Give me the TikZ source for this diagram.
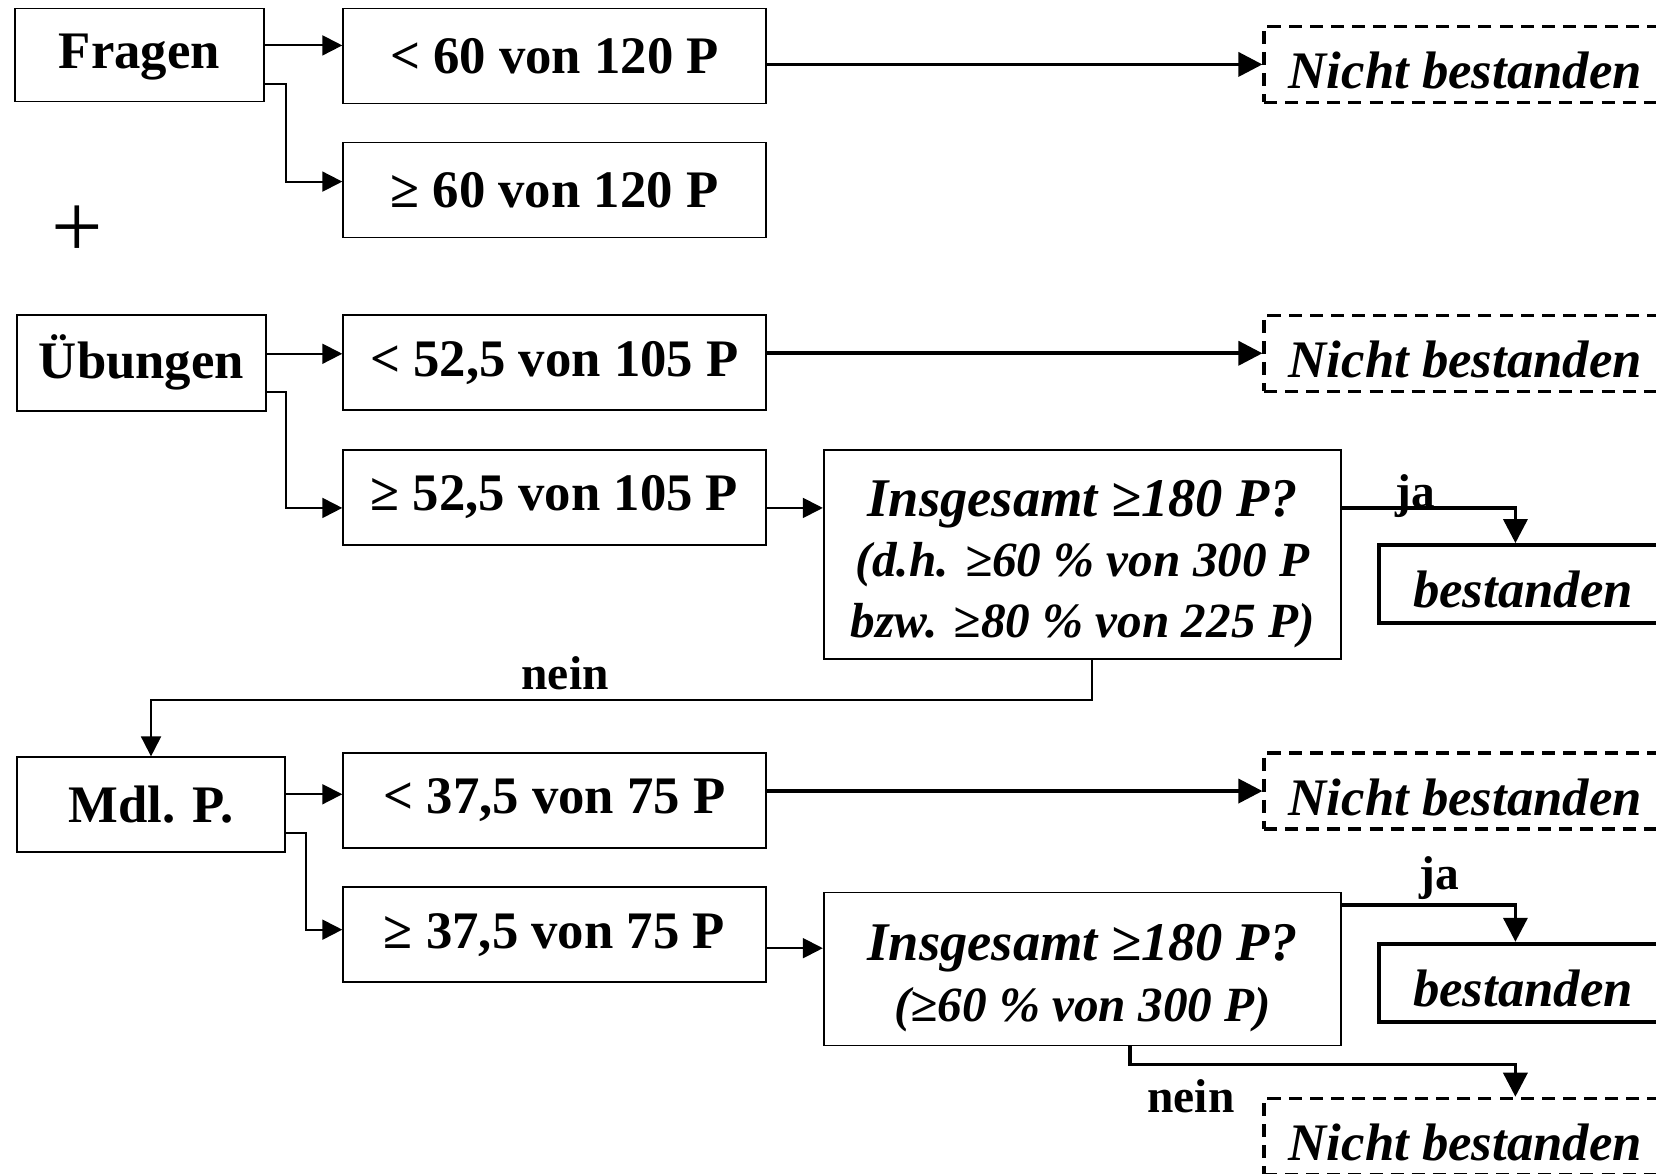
\documentclass[tikz,border=0pt]{standalone}
\usepackage{fontspec}
\setmainfont{Liberation Serif}
\usetikzlibrary{arrows.meta,positioning}
\tikzstyle{box} = [draw, line width=1pt, inner sep=0pt, font=\fontsize{30}{34}\selectfont\bfseries]
\tikzstyle{cond} = [box, minimum width=8.45cm, minimum height=1.9cm]
\tikzstyle{quest} = [box, minimum width=10.35cm, align=center, font=\fontsize{28}{34.5}\selectfont\bfseries\itshape]
\tikzstyle{fail} = [draw, line width=1.9pt, dash pattern=on 7.4pt off 4.6pt, minimum width=8.05cm, minimum height=1.52cm, inner sep=0pt, text height=0.97cm, text depth=0pt, font=\fontsize{30}{34}\selectfont\bfseries\itshape]
\tikzstyle{pass} = [draw, line width=2.2pt, minimum width=5.74cm, minimum height=1.56cm, inner sep=0pt, text height=0.95cm, text depth=0pt, font=\fontsize{30}{34}\selectfont\bfseries\itshape]
\tikzstyle{arr} = [line width=1.1pt, -{Triangle[length=0.4cm,width=0.4cm]}]
\tikzstyle{thickarr} = [line width=2.1pt, -{Triangle[length=0.48cm,width=0.48cm]}]
\tikzstyle{lbl} = [inner sep=0pt, font=\fontsize{27}{30}\selectfont\bfseries]
\newcommand{\qstrut}{\rule{0pt}{1.1cm}}

\begin{document}
\begin{tikzpicture}[x=0.02112cm, y=-0.02112cm]
    \clip (0,0) rectangle (1568,1111);

    % Fragen
    \node (fragen) [box, minimum width=4.98cm, minimum height=1.86cm, text height=0.78cm] at (132,52) {Fragen};
    \node (lt60) [cond] at (525,53) {< 60 von 120 P};
    \node (ge60) [cond] at (525,180) {≥ 60 von 120 P};
    \node (plus) [font=\fontsize{52}{52}\selectfont] at (73,219) {+};

    % Uebungen
    \node (ueb) [box, minimum width=4.98cm, minimum height=1.92cm] at (134,343.5) {Übungen};
    \node (lt52) [cond] at (525,343.5) {< 52,5 von 105 P};
    \node (ge52) [cond] at (525,471) {≥ 52,5 von 105 P};
    \node (ins1) [quest, minimum height=4.18cm] at (1025,525)
        {\qstrut{\fontsize{31}{34}\selectfont Insgesamt ≥180 P?}\\(d.h. ≥60 \% von 300 P\\bzw. ≥80 \% von 225 P)};

    % Mdl. P.
    \node (mdl) [box, minimum width=5.36cm, minimum height=1.9cm] at (143,762) {Mdl. P.};
    \node (lt37) [cond] at (525,758) {< 37,5 von 75 P};
    \node (ge37) [cond] at (525,885) {≥ 37,5 von 75 P};
    \node (ins2) [quest, minimum height=3.06cm] at (1025,917.5)
        {\qstrut{\fontsize{31}{34}\selectfont Insgesamt ≥180 P?}\\(≥60 \% von 300 P)};

    % Ergebnisse
    \node (nb1) [fail] at (1387.5,61) {Nicht bestanden};
    \node (nb2) [fail] at (1387.5,334.5) {Nicht bestanden};
    \node (nb3) [fail] at (1387.5,749) {Nicht bestanden};
    \node (nb4) [fail] at (1387.5,1076) {Nicht bestanden};
    \node (bes1) [pass] at (1442,553) {bestanden};
    \node (bes2) [pass] at (1442,930.5) {bestanden};
    \node (nein2) [lbl, left=0.55cm of nb4.north west] {nein};

    % Pfeile Fragen
    \coordinate (f1) at ([yshift=0.19cm]fragen.east);
    \draw [arr] (f1) -- (f1 -| lt60.west);
    \coordinate (f2) at ([yshift=-0.59cm]fragen.east);
    \draw [arr] (f2) -- ++(0.42cm,0) |- ([yshift=0.17cm]ge60.west);
    \draw [thickarr] (lt60.east |- nb1) -- (nb1.west);

    % Pfeile Uebungen
    \coordinate (u1) at ([yshift=0.18cm]ueb.east);
    \draw [arr] (u1) -- (u1 -| lt52.west);
    \coordinate (u2) at ([yshift=-0.58cm]ueb.east);
    \draw [arr] (u2) -- ++(0.38cm,0) |- ([yshift=-0.21cm]ge52.west);
    \draw [thickarr] (lt52.east |- nb2) -- (nb2.west);
    \coordinate (g52) at ([yshift=-0.21cm]ge52.east);
    \draw [arr] (g52) -- (g52 -| ins1.west);
    \coordinate (i1ja) at (g52 -| ins1.east);
    \draw [thickarr] (i1ja) -| node [lbl, pos=0.21, anchor=base] {ja} ([xshift=-0.15cm]bes1.north);
    \draw [arr] ([xshift=0.19cm]ins1.south) -- ++(0,-0.8cm) -| node [lbl, pos=0.28, anchor=base, yshift=0.21cm] {nein} (mdl.north);

    % Pfeile Mdl. P.
    \coordinate (m1) at ([yshift=0.21cm]mdl.east);
    \draw [arr] (m1) -- (m1 -| lt37.west);
    \coordinate (m2) at ([yshift=-0.57cm]mdl.east);
    \draw [arr] (m2) -- ++(0.40cm,0) |- ([yshift=0.1cm]ge37.west);
    \draw [thickarr] (lt37.east |- nb3) -- (nb3.west);
    \coordinate (g37) at ([yshift=-0.27cm]ge37.east);
    \draw [arr] (g37) -- (g37 -| ins2.west);
    \coordinate (i2ja) at ([yshift=-0.27cm]ins2.north east);
    \draw [thickarr] (i2ja) -| node [lbl, pos=0.28, anchor=base, yshift=0.32cm] {ja} ([xshift=-0.15cm]bes2.north);
    \draw [thickarr] ([xshift=0.95cm]ins2.south) -- ++(0,-0.36cm) -| ([xshift=1.0cm]nb4.north);
\end{tikzpicture}
\end{document}
